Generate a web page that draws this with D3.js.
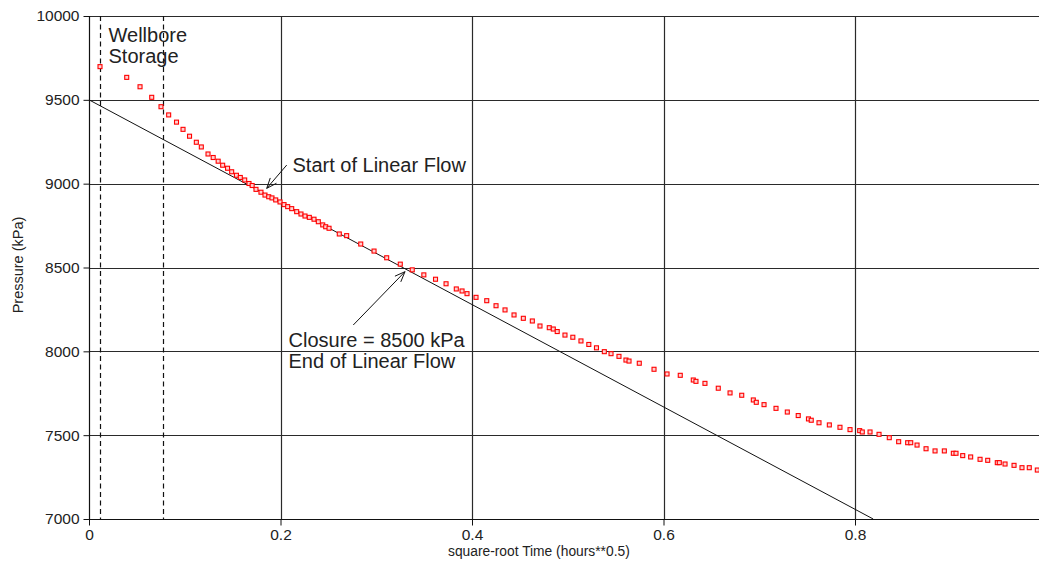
<!DOCTYPE html>
<html>
<head>
<meta charset="utf-8">
<script src="https://cdn.jsdelivr.net/npm/d3@7"></script>
<style>
  html, body { margin: 0; padding: 0; background: #fff; }
  svg { display: block; font-family: "Liberation Sans", Arial, sans-serif; }
</style>
</head>
<body>
<svg id="chart" width="1039" height="563"></svg>
<script>
// ---- data ----
const sqrtTime = [0.0115,0.0394,0.0533,0.0655,0.0752,0.0832,0.0914,0.0982,0.1050,0.1121,
  0.1173,0.1243,0.1297,0.1349,0.1396,0.1447,0.1490,0.1540,0.1580,0.1626,
  0.1671,0.1704,0.1744,0.1796,0.1838,0.1877,0.1911,0.1950,0.1995,0.2037,
  0.2075,0.2117,0.2169,0.2214,0.2256,0.2301,0.2350,0.2395,0.2441,0.2472,
  0.2507,0.2614,0.2691,0.2838,0.2977,0.3109,0.3251,0.3376,0.3497,0.3619,
  0.3729,0.3836,0.3896,0.3948,0.4042,0.4154,0.4251,0.4345,0.4439,0.4536,
  0.4630,0.4710,0.4807,0.4849,0.4890,0.4971,0.5053,0.5138,0.5220,0.5300,
  0.5382,0.5452,0.5535,0.5608,0.5640,0.5747,0.5901,0.6037,0.6175,0.6311,
  0.6339,0.6433,0.6572,0.6695,0.6817,0.6938,0.6969,0.7050,0.7175,0.7293,
  0.7407,0.7514,0.7543,0.7624,0.7732,0.7843,0.7948,0.8049,0.8076,0.8157,
  0.8251,0.8358,0.8456,0.8550,0.8582,0.8648,0.8742,0.8836,0.8933,0.9027,
  0.9055,0.9125,0.9208,0.9306,0.9386,0.9486,0.9507,0.9567,0.9661,0.9744,
  0.9820,0.9904];
const pressure = [9698,9634,9578,9515,9459,9410,9367,9324,9283,9247,
  9219,9177,9156,9134,9110,9092,9071,9050,9037,9022,
  9001,8989,8966,8949,8932,8922,8915,8903,8891,8875,
  8863,8851,8833,8819,8807,8799,8788,8773,8754,8743,
  8734,8700,8690,8640,8598,8558,8520,8486,8456,8430,
  8403,8372,8360,8344,8322,8302,8272,8247,8217,8197,
  8181,8151,8141,8133,8118,8097,8084,8062,8041,8021,
  7998,7986,7970,7948,7942,7929,7893,7865,7857,7829,
  7821,7809,7780,7752,7738,7710,7696,7682,7660,7638,
  7617,7597,7589,7574,7561,7547,7533,7527,7519,7519,
  7505,7485,7461,7455,7455,7441,7419,7406,7406,7392,
  7392,7378,7370,7356,7350,7336,7336,7328,7320,7306,
  7306,7292];

// straight-line fit through linear-flow region
const fitX = [0, 0.819];
const fitP = [9500, 7000];

// wellbore storage limits (dashed)
const storageX = [0.0115, 0.077];

const xTicks = [0, 0.2, 0.4, 0.6, 0.8];
const xTickLabels = ["0", "0.2", "0.4", "0.6", "0.8"];
const yTicks = [7000, 7500, 8000, 8500, 9000, 9500, 10000];

const xTitle = "square-root Time (hours**0.5)";
const yTitle = "Pressure (kPa)";

// annotations
const noteStorage = ["Wellbore", "Storage"];
const noteStart = ["Start of Linear Flow"];
const noteClosure = ["Closure = 8500 kPa", "End of Linear Flow"];
const startArrow = { tail: [0.2065, 9111], tip: [0.1856, 8972] };
const closureArrow = { tail: [0.276, 8157], tip: [0.330, 8475] };

// ---- chart ----
(function () {
const svg = d3.select("#chart");
const mLeft = 89, mTop = 16, mBottom = 519, mRight = 1039;
const x = d3.scaleLinear().domain([0, 1]).range([mLeft, mLeft + 957.5]);
const y = d3.scaleLinear().domain([7000, 10000]).range([mBottom, mTop]);

const gridColor = "#2a2a2a";

// grid
svg.append("g").selectAll("line").data(yTicks).join("line")
  .attr("x1", mLeft).attr("x2", mRight)
  .attr("y1", d => Math.round(y(d)) + 0.5).attr("y2", d => Math.round(y(d)) + 0.5)
  .attr("stroke", gridColor).attr("stroke-width", 1.2);
svg.append("g").selectAll("line").data(xTicks.slice(1)).join("line")
  .attr("x1", d => Math.round(x(d)) + 0.5).attr("x2", d => Math.round(x(d)) + 0.5)
  .attr("y1", mTop).attr("y2", mBottom)
  .attr("stroke", gridColor).attr("stroke-width", 1.2);

// axes
const yAxis = d3.axisLeft(y).tickValues(yTicks).tickSize(6).tickPadding(4).tickFormat(d3.format("d"));
const gy = svg.append("g").attr("transform", `translate(${mLeft + 0.5},0)`).call(yAxis);
gy.select(".domain").attr("stroke", "#111").attr("stroke-width", 1.2).attr("d", `M0,${mTop}V${mBottom}`);
gy.selectAll(".tick line").attr("stroke", "#111");
gy.selectAll(".tick text").attr("font-size", 15.5).attr("fill", "#222")
  .attr("font-family", "Liberation Sans, Arial, sans-serif");

const xAxis = d3.axisBottom(x).tickValues(xTicks).tickSize(6).tickPadding(3)
  .tickFormat((d, i) => xTickLabels[i]);
const gx = svg.append("g").attr("transform", `translate(0,${mBottom + 0.5})`).call(xAxis);
gx.select(".domain").attr("stroke", "#111").attr("stroke-width", 1.2).attr("d", `M${mLeft},0H${mRight}`);
gx.selectAll(".tick line").attr("stroke", "#111");
gx.selectAll(".tick text").attr("font-size", 15.5).attr("fill", "#222")
  .attr("font-family", "Liberation Sans, Arial, sans-serif");

// axis titles
svg.append("text").attr("x", 448).attr("y", 556)
  .attr("font-size", 13.8).attr("fill", "#222").text(xTitle);
svg.append("text").attr("transform", `translate(23,265) rotate(-90)`)
  .attr("text-anchor", "middle").attr("font-size", 14.5).attr("fill", "#222").text(yTitle);

// dashed wellbore storage lines
svg.append("g").selectAll("line").data(storageX).join("line")
  .attr("x1", d => Math.round(x(d)) + 0.5).attr("x2", d => Math.round(x(d)) + 0.5)
  .attr("y1", mTop).attr("y2", mBottom)
  .attr("stroke", "#111").attr("stroke-width", 1.2).attr("stroke-dasharray", "5,3.5");

// fitted line
const fitLine = d3.line().x(d => x(d[0])).y(d => y(d[1]));
svg.append("path").datum(fitX.map((v, i) => [v, fitP[i]]))
  .attr("d", fitLine).attr("fill", "none").attr("stroke", "#111").attr("stroke-width", 1);

// data points
svg.append("g").selectAll("rect").data(sqrtTime.map((v, i) => [v, pressure[i]])).join("rect")
  .attr("x", d => x(d[0]) - 2).attr("y", d => y(d[1]) - 2)
  .attr("width", 4).attr("height", 4)
  .attr("fill", "#ffd0d0").attr("stroke", "#ff0000").attr("stroke-width", 1.1);

// annotations
function note(lines, px, py, size, lh) {
  const t = svg.append("text").attr("font-size", size).attr("fill", "#222");
  lines.forEach((s, i) => t.append("tspan").attr("x", px).attr("y", py + i * lh).text(s));
}
note(noteStorage, 108.5, 42, 20, 21);
note(noteStart, 292.5, 171.5, 20, 21);
note(noteClosure, 288.5, 346.5, 20, 21);

function arrow(a) {
  const x1 = x(a.tail[0]), y1 = y(a.tail[1]), x2 = x(a.tip[0]), y2 = y(a.tip[1]);
  svg.append("line").attr("x1", x1).attr("y1", y1).attr("x2", x2).attr("y2", y2)
    .attr("stroke", "#111").attr("stroke-width", 1);
  const ang = Math.atan2(y1 - y2, x1 - x2);
  const L = 11, spread = 0.38;
  [ang - spread, ang + spread].forEach(a2 => {
    svg.append("line").attr("x1", x2).attr("y1", y2)
      .attr("x2", x2 + L * Math.cos(a2)).attr("y2", y2 + L * Math.sin(a2))
      .attr("stroke", "#111").attr("stroke-width", 1);
  });
}
arrow(startArrow);
arrow(closureArrow);
})();
</script>
</body>
</html>
